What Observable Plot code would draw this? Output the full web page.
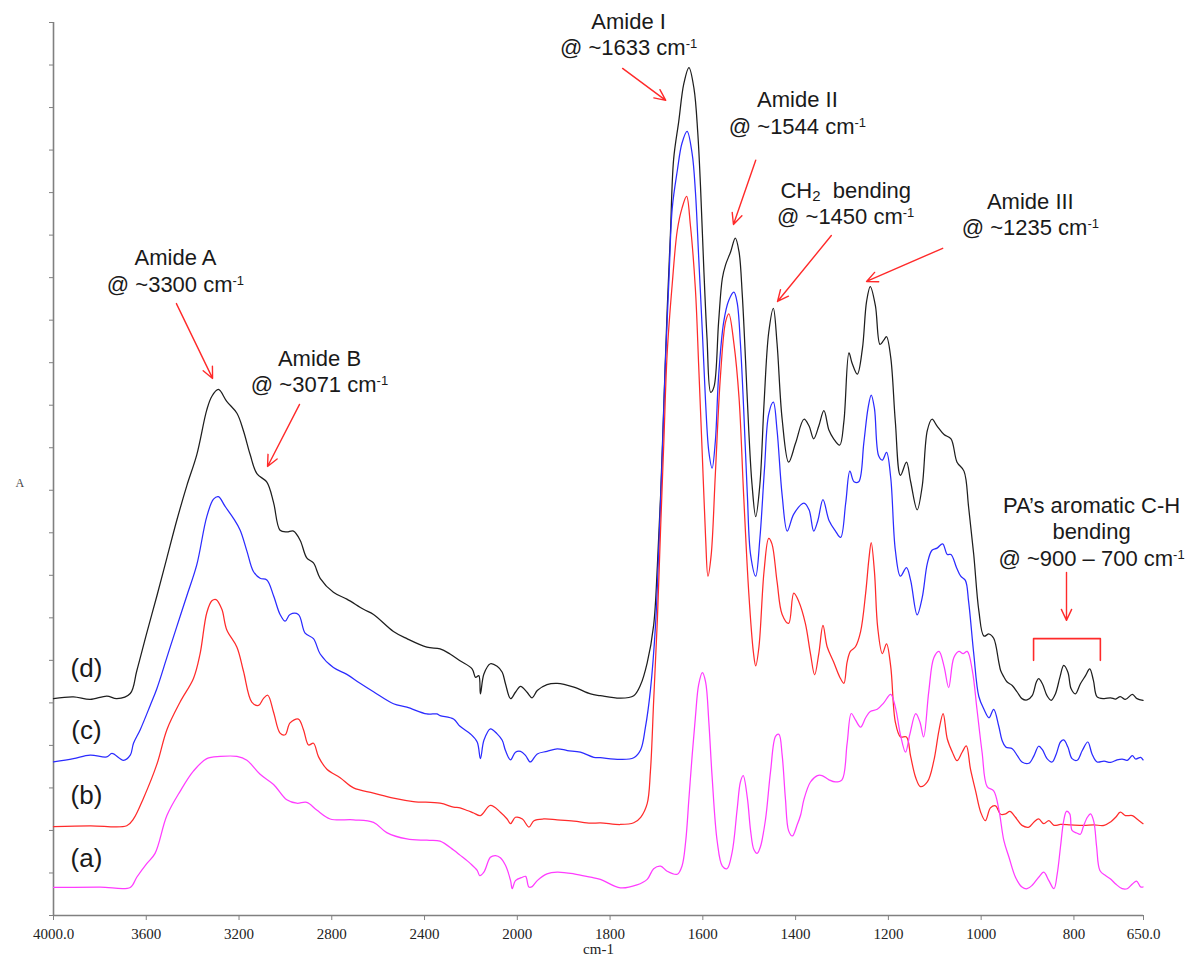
<!DOCTYPE html>
<html><head><meta charset="utf-8">
<script src="https://cdn.jsdelivr.net/npm/d3@7"></script>
<script src="https://cdn.jsdelivr.net/npm/@observablehq/plot@0.6"></script>
<style>
body{margin:0;background:#fff;}
#chart{position:absolute;left:0;top:0;}
#chart svg text{white-space:pre;}
#chart svg [aria-label="x-axis tick label"]{font-family:"Liberation Serif","Times New Roman",serif;font-size:15px;}
</style>
</head><body><div id="chart"></div>
<script>
// ---- spectra: [wavenumber (cm-1), absorbance (offset)] ----
const specD = [[4000,.510],[3914,.514],[3842,.508],[3770,.516],[3727,.510],[3669,.522],[3641,.575],[3598,.664],[3554,.752],[3511,.841],[3468,.930],[3425,1.011],[3382,1.084],[3339,1.189],[3317,1.221],[3289,1.237],[3253,1.209],[3209,1.181],[3181,1.140],[3152,1.084],[3123,1.039],[3080,1.019],[3051,.971],[3023,.906],[2994,.902],[2965,.904],[2936,.882],[2908,.841],[2879,.829],[2850,.793],[2793,.760],[2735,.744],[2663,.720],[2620,.708],[2534,.668],[2476,.651],[2390,.631],[2333,.627],[2290,.615],[2247,.599],
[2195,.580],[2180,.560],[2166,.564],[2159,.521],[2144,.568],[2116,.592],[2087,.586],[2065,.572],[2051,.545],[2029,.510],[2008,.525],[1993,.539],[1979,.525],[1968,.512],[1957,.529],[1936,.543],[1914,.546],[1878,.537],[1842,.521],
[1821,.517],[1778,.511],[1749,.517],[1734,.543],[1720,.594],[1706,.683],[1698,.823],[1691,.989],[1684,1.205],[1677,1.421],[1670,1.600],[1663,1.778],[1652,1.867],[1641,1.956],[1630,1.994],[1619,1.944],[1611,1.842],[1605,1.714],[1598,1.523],[1591,1.358],[1583,1.230],[1576,1.243],[1566,1.396],[1558,1.498],[1551,1.530],[1540,1.561],[1530,1.593],[1522,1.561],[1515,1.460],[1508,1.307],[1501,1.141],[1494,1.014],[1486,.938],[1477,1.014],[1468,1.205],[1458,1.371],[1448,1.428],[1440,1.345],[1429,1.167],
[1415,1.066],[1400,1.111],[1382,1.167],[1371,1.151],[1361,1.121],[1350,1.151],[1339,1.187],[1328,1.141],[1318,1.121],[1305,1.106],[1296,1.161],[1285,1.323],[1278,1.298],[1267,1.273],[1256,1.333],[1247,1.444],[1239,1.479],[1228,1.434],[1218,1.343],[1210,1.353],[1204,1.361],[1195,1.313],[1185,1.161],[1174,1.035],[1161,1.066],[1152,1.020],[1138,.954],[1127,1.010],[1116,1.141],[1106,1.167],[1095,1.151],[1080,1.131],[1065,1.121],[1052,1.066],[1037,1.045],[1027,.960],[1016,.849],[1005,.717],[994,.657],[983,.662],[973,.652],[962,.596],
[958,.576],[951,.561],[944,.549],[933,.541],[922,.525],[912,.510],[901,.507],[890,.517],[881,.549],[876,.557],[868,.545],[858,.517],[849,.506],[840,.521],[830,.561],[822,.588],[813,.572],[806,.533],[797,.521],[786,.545],[775,.564],[766,.580],[758,.553],[750,.514],[735,.510],[721,.512],[710,.509],[700,.515],[689,.508],[674,.520],[664,.510],[651,.506]];

const specC = [[4000,.361],[3914,.369],[3842,.377],[3770,.373],[3748,.381],[3698,.365],[3669,.377],[3655,.405],[3626,.437],[3583,.494],[3554,.534],[3511,.607],[3468,.680],[3425,.752],[3382,.825],[3339,.938],[3310,.979],[3289,.985],[3260,.962],[3224,.934],[3195,.906],[3166,.857],[3138,.809],[3109,.793],[3080,.789],[3051,.752],[3023,.708],[3001,.692],[2980,.708],[2944,.708],[2915,.664],[2879,.651],[2850,.615],[2793,.583],[2735,.567],[2678,.546],[2620,.526],[2534,.498],[2476,.490],[2390,.474],[2347,.474],[2333,.470],[2275,.462],[2247,.445],
[2202,.427],[2173,.408],[2159,.369],[2144,.412],[2116,.439],[2087,.427],[2065,.412],[2051,.388],[2029,.366],[2008,.384],[1993,.386],[1982,.376],[1972,.361],[1957,.380],[1936,.386],[1914,.392],[1892,.388],[1864,.384],[1835,.372],
[1821,.371],[1778,.367],[1749,.371],[1734,.390],[1724,.441],[1713,.530],[1702,.683],[1695,.861],[1688,1.065],[1681,1.294],[1673,1.498],[1666,1.663],[1655,1.752],[1645,1.816],[1634,1.844],[1623,1.791],[1616,1.702],[1609,1.549],[1601,1.371],[1594,1.205],[1587,1.090],[1580,1.052],[1573,1.116],[1566,1.269],[1555,1.396],[1544,1.447],[1533,1.466],[1526,1.441],[1519,1.345],[1512,1.192],[1504,.988],[1497,.848],[1486,.798],[1477,.887],[1467,1.052],[1458,1.179],[1448,1.207],[1440,1.141],[1429,.988],
[1418,.904],[1404,.944],[1382,.970],[1371,.954],[1361,.904],[1352,.929],[1341,.978],[1328,.929],[1314,.904],[1303,.889],[1292,.970],[1283,1.045],[1274,1.020],[1264,1.020],[1253,1.111],[1244,1.192],[1237,1.224],[1230,1.192],[1221,1.081],[1213,1.071],[1204,1.089],[1195,1.030],[1185,.859],[1174,.798],[1161,.818],[1152,.788],[1138,.707],[1127,.748],[1116,.828],[1106,.859],[1095,.864],[1083,.874],[1073,.849],[1065,.849],[1053,.818],[1044,.798],[1034,.788],[1027,.738],[1016,.616],[1005,.515],[994,.485],[983,.465],[973,.485],[962,.445],
[955,.412],[947,.396],[933,.392],[922,.376],[912,.361],[897,.358],[886,.376],[876,.398],[868,.390],[858,.369],[847,.361],[838,.380],[829,.408],[822,.413],[813,.396],[804,.369],[793,.365],[782,.388],[770,.408],[761,.380],[750,.361],[735,.363],[721,.360],[707,.366],[696,.368],[685,.365],[674,.376],[667,.368],[656,.372],[651,.366]];

const specB = [[4000,.209],[3842,.211],[3684,.211],[3655,.227],[3612,.276],[3554,.356],[3511,.437],[3454,.502],[3396,.558],[3368,.615],[3339,.712],[3317,.740],[3299,.743],[3274,.720],[3253,.672],[3209,.631],[3181,.575],[3145,.502],[3116,.494],[3095,.510],[3076,.518],[3051,.478],[3023,.429],[3001,.425],[2980,.453],[2944,.462],[2922,.437],[2900,.401],[2879,.405],[2857,.373],[2821,.344],[2764,.324],[2706,.300],[2620,.288],[2534,.276],[2448,.268],[2333,.264],[2275,.255],[2247,.253],
[2216,.247],[2188,.241],[2159,.235],[2116,.259],[2073,.243],[2044,.227],[2029,.216],[2008,.231],[1989,.227],[1975,.208],[1964,.223],[1943,.227],[1914,.225],[1878,.222],[1842,.217],
[1821,.218],[1778,.214],[1749,.218],[1734,.231],[1720,.263],[1713,.339],[1706,.505],[1698,.696],[1691,.912],[1684,1.116],[1677,1.320],[1666,1.485],[1655,1.612],[1645,1.663],[1635,1.691],[1627,1.625],[1616,1.472],[1609,1.294],[1601,1.078],[1594,.887],[1589,.798],[1582,.848],[1573,1.039],[1562,1.269],[1551,1.396],[1544,1.415],[1533,1.345],[1522,1.218],[1512,.988],[1501,.759],[1491,.619],[1486,.587],[1479,.632],[1468,.810],[1458,.887],[1451,.874],[1440,.785],[1429,.708],
[1415,.687],[1404,.758],[1393,.738],[1379,.687],[1368,.616],[1359,.566],[1350,.616],[1341,.682],[1332,.632],[1318,.596],[1305,.561],[1296,.546],[1289,.596],[1282,.621],[1271,.632],[1260,.667],[1249,.758],[1242,.838],[1237,.877],[1230,.808],[1223,.677],[1213,.616],[1204,.639],[1195,.586],[1185,.455],[1174,.420],[1161,.420],[1152,.374],[1141,.324],[1131,.303],[1116,.314],[1102,.364],[1091,.435],[1082,.475],[1073,.415],[1062,.384],[1052,.364],[1041,.384],[1032,.399],[1023,.344],[1012,.293],[1001,.243],[991,.223],[980,.253],[969,.258],[958,.238],
[947,.239],[938,.245],[926,.231],[912,.212],[897,.208],[886,.220],[876,.227],[865,.216],[854,.223],[843,.212],[829,.214],[807,.213],[779,.212],[757,.213],[735,.212],[721,.220],[710,.231],[700,.243],[689,.235],[674,.235],[664,.227],[651,.216]];

const specA = [[4000,.066],[3799,.067],[3669,.066],[3641,.090],[3598,.122],[3562,.146],[3511,.235],[3454,.292],[3396,.340],[3339,.369],[3281,.374],[3209,.374],[3166,.365],[3109,.332],[3051,.308],[2994,.272],[2951,.264],[2908,.266],[2865,.248],[2807,.227],[2706,.225],[2620,.219],[2563,.195],[2476,.180],[2390,.177],[2333,.175],[2275,.154],[2247,.142],
[2202,.122],[2173,.106],[2162,.094],[2144,.102],[2116,.137],[2094,.141],[2073,.136],[2051,.118],[2029,.082],[2022,.063],[2008,.082],[1989,.090],[1982,.092],[1975,.067],[1968,.068],[1957,.082],[1936,.098],[1914,.102],[1878,.098],[1842,.090],
[1821,.085],[1778,.065],[1742,.072],[1720,.085],[1706,.110],[1691,.116],[1677,.104],[1655,.097],[1645,.116],[1637,.174],[1630,.275],[1623,.377],[1616,.467],[1609,.543],[1601,.571],[1594,.549],[1587,.454],[1580,.326],[1569,.174],[1558,.116],[1548,.110],[1537,.148],[1526,.250],[1519,.314],[1513,.329],[1504,.276],[1497,.199],[1490,.155],[1483,.146],[1476,.161],[1465,.225],[1454,.339],[1443,.422],[1436,.426],[1429,.377],[1422,.275],[1415,.199],[1407,.187],[1397,.212],[1389,.237],
[1382,.273],[1368,.314],[1353,.329],[1343,.329],[1328,.319],[1314,.314],[1300,.319],[1289,.404],[1280,.475],[1271,.460],[1260,.443],[1249,.465],[1239,.480],[1224,.485],[1210,.500],[1195,.520],[1185,.490],[1174,.425],[1163,.384],[1154,.425],[1141,.475],[1132,.455],[1124,.420],[1113,.526],[1102,.606],[1091,.621],[1080,.586],[1070,.536],[1059,.606],[1048,.621],[1039,.616],[1030,.621],[1019,.576],[1009,.485],[998,.384],[987,.303],[973,.293],[962,.250],
[951,.176],[940,.137],[926,.090],[912,.067],[901,.063],[890,.071],[876,.090],[865,.102],[854,.082],[843,.063],[836,.098],[829,.161],[822,.223],[816,.245],[809,.239],[804,.200],[794,.194],[786,.191],[780,.208],[771,.231],[764,.239],[757,.220],[751,.161],[744,.106],[732,.094],[721,.086],[710,.074],[696,.063],[685,.063],[674,.074],[665,.081],[656,.067],[651,.067]];

const seriesNames = ["(d)", "(c)", "(b)", "(a)"];
const seriesLabelAbs = [0.581, 0.435, 0.282, 0.134];
const seriesLabelWn = 3858;
const seriesColors = ["#1e1e1e", "#2b2bff", "#ff2b2b", "#ff3cff"];

const xTicks = [4000, 3600, 3200, 2800, 2400, 2000, 1800, 1600, 1400, 1200, 1000, 800, 650];
const xTickLabels = ["4000.0", "3600", "3200", "2800", "2400", "2000", "1800", "1600", "1400", "1200", "1000", "800", "650.0"];

// annotations
const noteText = ["Amide A\n@ ~3300 cm^-1", "Amide B\n@ ~3071 cm^-1", "Amide I\n@ ~1633 cm^-1", "Amide II\n@ ~1544 cm^-1", "CH_2  bending\n@ ~1450 cm^-1", "Amide III\n@ ~1235 cm^-1", "PA\u2019s aromatic C-H\nbending\n@ ~900 \u2013 700 cm^-1"];
const noteWn = [3474, 2853, 1760, 1396, 1292, 894, 762];
const noteAbs = [1.518, 1.282, 2.074, 1.889, 1.677, 1.650, 0.905];
const arrowStartWn = [3470, 2939, 1773, 1486, 1323, 1083, 816];
const arrowStartAbs = [1.439, 1.202, 1.992, 1.776, 1.599, 1.569, 0.807];
const arrowEndWn = [3314, 3077, 1680, 1534, 1439, 1247, 816];
const arrowEndAbs = [1.263, 1.056, 1.917, 1.625, 1.444, 1.491, 0.694];
const bracketWn = [887, 887, 743, 743];
const bracketAbs = [0.600, 0.651, 0.651, 0.600];

const specs = [specD, specC, specB, specA];
const idx = n => d3.range(n);

const plot = Plot.plot({
  width: 1198, height: 960,
  marginTop: 22, marginBottom: 45, marginLeft: 53, marginRight: 55,
  style: {fontFamily: "'Liberation Sans', Arial, sans-serif", background: "#fff", overflow: "visible"},
  x: {type: "linear", domain: [4000, 2000, 650], range: [53, 516.8, 1143]},
  y: {type: "linear", domain: [0, 2.1], range: [915, 22]},
  marks: [
    Plot.axisX({ticks: xTicks, tickFormat: d => xTickLabels[xTicks.indexOf(d)], tickSize: 5, tickPadding: 8,
      stroke: "#808080", color: "#222", fontSize: 15, label: null}),
    Plot.axisY({ticks: d3.range(0, 22).map(i => i / 10), tickFormat: () => "", tickSize: 4, stroke: "#808080", label: null}),
    Plot.ruleX([4000], {stroke: "#808080", strokeWidth: 1.6}),
    Plot.ruleY([0], {stroke: "#808080", strokeWidth: 1.6}),
    ...specs.map((s, k) => Plot.line(s, {x: d => d[0], y: d => d[1], stroke: seriesColors[k], strokeWidth: 1.25, curve: "catmull-rom"})),
    Plot.text(idx(4), {x: () => seriesLabelWn, y: i => seriesLabelAbs[i], text: i => seriesNames[i], fontSize: 26, fill: "#1a1a1a"}),
    Plot.arrow(idx(arrowStartWn.length), {x1: i => arrowStartWn[i], y1: i => arrowStartAbs[i], x2: i => arrowEndWn[i], y2: i => arrowEndAbs[i],
      stroke: "#ff2a2a", strokeWidth: 1.4, headLength: 13, headAngle: 50}),
    Plot.line(idx(4), {x: i => bracketWn[i], y: i => bracketAbs[i], stroke: "#ff2a2a", strokeWidth: 1.6}),
    Plot.text(idx(noteText.length), {x: i => noteWn[i], y: i => noteAbs[i], text: i => noteText[i], fontSize: 22, lineHeight: 1.2, fill: "#1a1a1a"}),
    Plot.text(["cm-1"], {frameAnchor: "bottom", dy: 38, fontFamily: "'Liberation Serif', serif", fontSize: 15, fill: "#222"}),
    Plot.text(["A"], {frameAnchor: "left", dx: -38, dy: 14, fontFamily: "'Liberation Serif', serif", fontSize: 12, fill: "#444"})
  ]
});

// superscript / subscript rendering for "^-1" and "_2"
(function scripts(root) {
  const walker = document.createTreeWalker(root, NodeFilter.SHOW_TEXT);
  const nodes = [];
  while (walker.nextNode()) if (/\^-1|_2/.test(walker.currentNode.nodeValue)) nodes.push(walker.currentNode);
  for (const node of nodes) {
    const parts = node.nodeValue.split(/(\^-1|_2)/);
    const frag = document.createDocumentFragment();
    for (const p of parts) {
      if (p === "^-1" || p === "_2") {
        const t = document.createElementNS("http://www.w3.org/2000/svg", "tspan");
        t.setAttribute("font-size", p === "^-1" ? "13" : "15");
        t.setAttribute("baseline-shift", p === "^-1" ? "7" : "-3");
        t.textContent = p === "^-1" ? "-1" : "2";
        frag.appendChild(t);
      } else if (p) frag.appendChild(document.createTextNode(p));
    }
    const txt = node.parentNode.closest ? node.parentNode.closest("text") : null;
    if (txt) txt.setAttributeNS("http://www.w3.org/XML/1998/namespace", "xml:space", "preserve");
    node.parentNode.replaceChild(frag, node);
  }
})(plot);

document.getElementById("chart").appendChild(plot);
</script>
</body></html>
